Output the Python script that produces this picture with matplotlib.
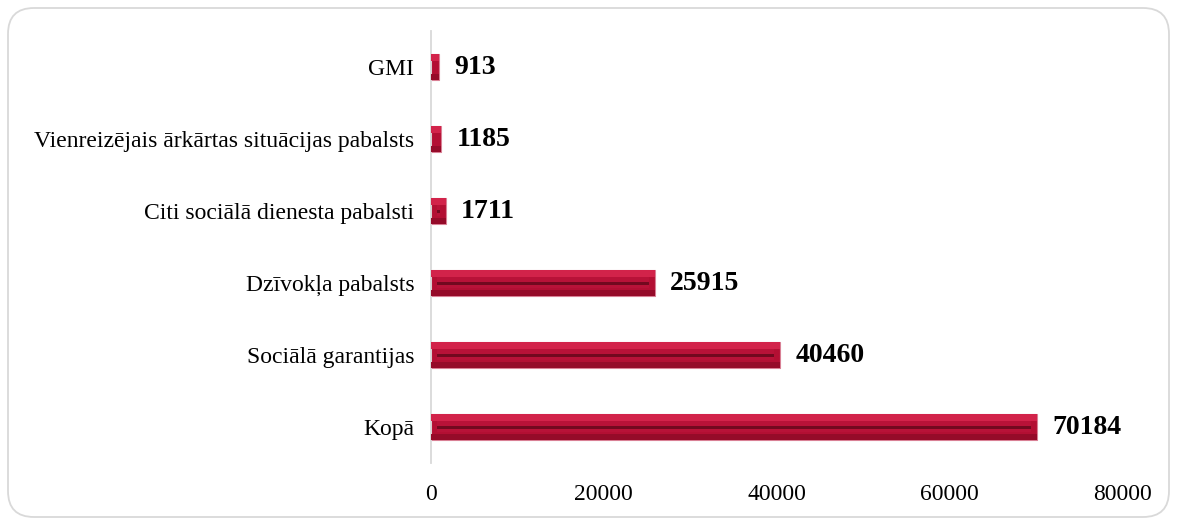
import matplotlib
matplotlib.use("Agg")
import matplotlib.pyplot as plt
from matplotlib.patches import FancyBboxPatch

categories = ["Kopā", "Sociālā garantijas", "Dzīvokļa pabalsts",
              "Citi sociālā dienesta pabalsti",
              "Vienreizējais ārkārtas situācijas pabalsts", "GMI"]
values = [70184, 40460, 25915, 1711, 1185, 913]
xticks = [0, 20000, 40000, 60000, 80000]

plt.rcParams['font.family'] = ['Liberation Serif', 'DejaVu Serif']

fig = plt.figure(figsize=(11.79, 5.25), dpi=100)
frame = FancyBboxPatch((8/1179, 8/525), 1161/1179, 509/525,
                       boxstyle="round,pad=0,rounding_size=0.022",
                       transform=fig.transFigure, facecolor='white',
                       edgecolor='#d9d9d9', linewidth=1.3, mutation_aspect=1179/525,
                       zorder=-10)
fig.patches.append(frame)

ax = fig.add_axes([431/1179, 1 - 463/525, (1122-431)/1179, 432/525])
ax.set_zorder(5)
ax.set_facecolor('none')
y = list(range(len(categories)))
h = 0.36
inset = 700
# base bar
ax.barh(y, values, height=h, color='#B30F33', edgecolor='#d98095', linewidth=0.8, zorder=2)
# top light bevel
ax.barh([v + h * 0.36 for v in y], values, height=h * 0.26, color='#D2234A', linewidth=0, zorder=3)
# bottom dark bevel
ax.barh([v - h * 0.38 for v in y], values, height=h * 0.22, color='#950B29', linewidth=0, zorder=3)
# inner face
inner_w = [max(v - 2 * inset, 0) for v in values]
ax.barh([v + h * 0.03 for v in y], inner_w, left=inset, height=h * 0.42,
        color='#B81238', linewidth=0, zorder=4)
# centre groove
ax.barh([v - h * 0.02 for v in y], inner_w, left=inset, height=h * 0.12,
        color='#72091F', linewidth=0, zorder=5)

for yi, v in zip(y, values):
    ax.annotate(str(v), (v, yi), xytext=(11, 0), textcoords='offset points',
                va='center', ha='left', fontsize=20, fontweight='bold', color='black')

ax.set_xlim(0, 80000)
ax.set_ylim(-0.5, len(categories) - 0.5)
ax.set_yticks(y)
ax.set_yticklabels(categories, fontsize=17)
ax.set_xticks(xticks)
ax.set_xticklabels([str(t) for t in xticks], fontsize=17)
ax.tick_params(axis='both', length=0)
ax.tick_params(axis='y', pad=12)
ax.tick_params(axis='x', pad=15)
for s in ['top', 'right', 'bottom']:
    ax.spines[s].set_visible(False)
ax.spines['left'].set_color('#d9d9d9')
ax.spines['left'].set_linewidth(1.3)

fig.savefig('out.png', dpi=100)
